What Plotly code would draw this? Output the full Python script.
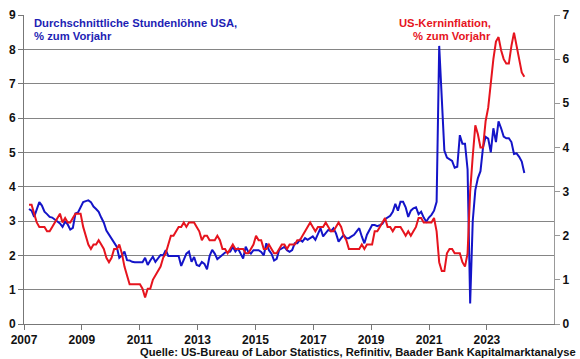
import plotly.graph_objects as go

# Average hourly earnings, USA, % y/y (left axis), monthly Jan 2007 - Jan 2023
wages = [
    3.35, 3.3, 3.12, 3.35, 3.55, 3.45, 3.27, 3.2, 3.12, 3.1, 3.05, 3.0,
    2.93, 2.83, 2.98, 2.9, 2.75, 2.8, 3.22, 3.25, 3.4, 3.55, 3.58, 3.6,
    3.55, 3.42, 3.35, 3.27, 3.1, 2.95, 2.72, 2.6, 2.45, 2.35, 2.25, 1.93,
    2.0, 2.11, 1.86, 1.85, 1.81, 1.8, 1.8, 1.82, 1.8, 1.93, 1.72, 1.85,
    1.96, 1.81, 1.9, 2.01, 2.0, 2.15, 1.98, 1.98, 1.98, 1.98, 1.98, 1.69,
    1.85, 2.05, 2.11, 1.81, 1.95, 1.72, 1.69, 1.81, 1.75, 1.59, 1.98, 2.16,
    2.05, 1.89, 1.95, 2.01, 2.08, 2.1, 2.11, 2.25, 2.11, 2.2, 2.05, 1.91,
    2.25, 2.1, 2.05, 2.15, 2.15, 2.15, 2.1, 2.0, 2.35, 2.15, 2.05, 1.85,
    1.9, 2.16, 2.2, 2.25, 2.15, 2.1, 2.15, 2.35, 2.35, 2.45, 2.4, 2.5,
    2.45, 2.5, 2.55, 2.45, 2.6, 2.79, 2.55, 2.65, 2.74, 2.7, 2.79, 2.64,
    2.4, 2.5, 2.59, 2.5, 2.5, 2.55, 2.6, 2.7, 2.79, 2.55, 2.35, 2.6,
    2.74, 2.88, 2.88, 2.85, 2.88, 2.92, 3.05, 3.1, 3.15, 3.27, 3.5, 3.3,
    3.56, 3.56, 3.4, 3.12, 3.3, 3.37, 3.4, 3.2, 3.27, 3.1, 2.98, 3.1,
    3.18, 3.3, 3.56, 8.1, 6.5, 5.05, 4.85, 4.8, 4.75, 4.55, 4.58, 5.5,
    5.25, 5.25, 4.5, 0.6, 3.0, 3.9, 4.25, 4.45, 5.15, 5.45, 5.4, 5.0,
    5.7, 5.3, 5.9, 5.7, 5.46, 5.41, 5.41, 5.3, 4.95, 4.97, 4.87, 4.73,
    4.4,
]

# US core inflation, % y/y (right axis), monthly Jan 2007 - Jan 2023
core_cpi = [
    2.7, 2.7, 2.5, 2.3, 2.2, 2.2, 2.2, 2.1, 2.1, 2.2, 2.3, 2.4,
    2.5, 2.3, 2.4, 2.3, 2.3, 2.4, 2.5, 2.5, 2.5, 2.2, 2.0, 1.8,
    1.7, 1.8, 1.8, 1.9, 1.8, 1.7, 1.5, 1.4, 1.5, 1.7, 1.7, 1.8,
    1.6, 1.3, 1.1, 0.9, 0.9, 0.9, 0.9, 0.9, 0.8, 0.6, 0.8, 0.8,
    1.0, 1.1, 1.2, 1.3, 1.5, 1.6, 1.8, 2.0, 2.0, 2.1, 2.2, 2.2,
    2.3, 2.2, 2.3, 2.3, 2.3, 2.2, 2.1, 1.9, 2.0, 2.0, 1.9, 1.9,
    1.9, 2.0, 1.9, 1.7, 1.7, 1.6, 1.7, 1.8, 1.7, 1.7, 1.7, 1.7,
    1.6, 1.6, 1.7, 1.8, 2.0, 1.9, 1.9, 1.7, 1.7, 1.8, 1.7, 1.6,
    1.6, 1.7, 1.8, 1.8, 1.7, 1.8, 1.8, 1.8, 1.9, 1.9, 2.0, 2.1,
    2.2, 2.3, 2.2, 2.1, 2.2, 2.2, 2.2, 2.3, 2.2, 2.1, 2.1, 2.2,
    2.3, 2.2, 2.0, 1.9, 1.7, 1.7, 1.7, 1.7, 1.7, 1.8, 1.7, 1.8,
    1.8, 1.8, 2.1, 2.1, 2.2, 2.3, 2.4, 2.2, 2.2, 2.1, 2.2, 2.2,
    2.2, 2.1, 2.0, 2.1, 2.0, 2.1, 2.2, 2.4, 2.4, 2.3, 2.3, 2.3,
    2.3, 2.4, 2.1, 1.4, 1.2, 1.2, 1.6, 1.7, 1.7, 1.6, 1.6, 1.6,
    1.4, 1.3, 1.6, 3.0, 3.8, 4.5, 4.3, 4.0, 4.0, 4.6, 4.9, 5.5,
    6.0, 6.4, 6.5, 6.2, 6.0, 5.9, 5.9, 6.3, 6.6, 6.3, 6.0, 5.7,
    5.6,
]

year_labels = ["2007", "2009", "2011", "2013", "2015", "2017", "2019", "2021", "2023"]

months = list(range(len(wages)))

# category-style axis: labels spaced evenly across the axis, as in the original
x_start = -1.94
x_end = 203.5
label_step = 22.43
tick_pos = [x_start + k * label_step for k in range(len(year_labels))]

BLUE = "#1414c8"
RED = "#e6141e"
FONT = "Liberation Sans, Arial, sans-serif"

fig = go.Figure()
fig.add_trace(go.Scatter(x=months, y=wages, mode="lines",
                         line=dict(color=BLUE, width=2), yaxis="y",
                         name="Durchschnittliche Stundenlöhne USA"))
fig.add_trace(go.Scatter(x=months, y=core_cpi, mode="lines",
                         line=dict(color=RED, width=2), yaxis="y2",
                         name="US-Kerninflation"))

tickfont = dict(family=FONT, size=12, color="#111111", weight="bold")

fig.update_layout(
    template="none",
    width=580, height=359,
    margin=dict(l=24, r=26, t=15, b=35, autoexpand=False),
    paper_bgcolor="white", plot_bgcolor="white",
    showlegend=False,
    font=dict(family=FONT),
    xaxis=dict(range=[x_start, x_end], tickvals=tick_pos, ticktext=year_labels,
               automargin=False,
               showgrid=False, zeroline=False, showline=True, linecolor="#777777",
               linewidth=1, ticks="outside", ticklen=5, tickcolor="#777777",
               tickfont=tickfont),
    yaxis=dict(range=[0, 9], dtick=1, showgrid=True, gridcolor="#858585",
               automargin=False,
               gridwidth=1, zeroline=False, showline=True, linecolor="#777777",
               ticks="outside", ticklen=5, tickcolor="#777777", tickfont=tickfont),
    yaxis2=dict(range=[0, 7], dtick=1, overlaying="y", side="right",
                automargin=False,
                showgrid=False, zeroline=False, showline=True, linecolor="#999999",
                ticks="outside", ticklen=5, tickcolor="#999999", tickfont=tickfont),
)

ann_font_b = dict(family=FONT, size=11.25, color="#1e1eb4", weight="bold")
ann_font_r = dict(family=FONT, size=11.25, color=RED, weight="bold")

fig.add_annotation(xref="paper", yref="paper", x=0.0151, y=0.974,
                   text="Durchschnittliche Stundenlöhne USA,", showarrow=False,
                   xanchor="left", yanchor="middle", font=ann_font_b)
fig.add_annotation(xref="paper", yref="paper", x=0.0151, y=0.932,
                   text="% zum Vorjahr", showarrow=False,
                   xanchor="left", yanchor="middle", font=ann_font_b)
fig.add_annotation(xref="paper", yref="paper", x=0.885, y=0.974,
                   text="US-Kerninflation,", showarrow=False,
                   xanchor="right", yanchor="middle", font=ann_font_r)
fig.add_annotation(xref="paper", yref="paper", x=0.885, y=0.932,
                   text="% zum Vorjahr", showarrow=False,
                   xanchor="right", yanchor="middle", font=ann_font_r)
fig.add_annotation(xref="paper", yref="paper", x=1.045, y=-0.0906,
                   text="Quelle: US-Bureau of Labor Statistics, Refinitiv, Baader Bank Kapitalmarktanalyse",
                   showarrow=False, xanchor="right", yanchor="middle",
                   font=dict(family=FONT, size=11.2, color="#111111", weight="bold"))

fig.write_html("out.html", config={"displayModeBar": False},
               post_script="document.body.style.margin='0';document.body.style.overflow='hidden';")
